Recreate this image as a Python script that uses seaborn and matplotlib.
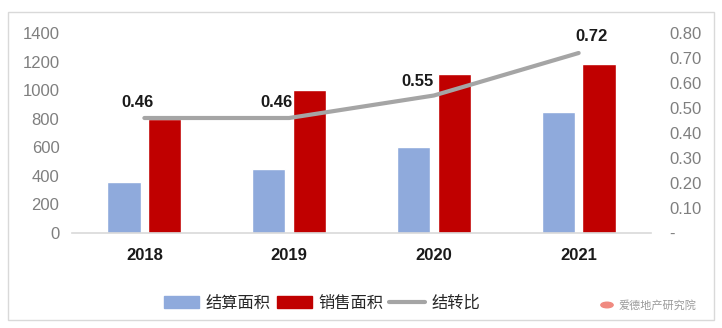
import matplotlib
matplotlib.use("Agg")
import matplotlib.pyplot as plt
import matplotlib.patches as mpatches
from matplotlib.lines import Line2D
from matplotlib.ticker import FixedLocator, FuncFormatter
import seaborn as sns
import pandas as pd

# 数据
years = ["2018", "2019", "2020", "2021"]
settled_area = [360, 450, 600, 850]      # 结算面积
sales_area = [800, 1000, 1110, 1180]     # 销售面积
carry_ratio = [0.46, 0.46, 0.55, 0.72]   # 结转比
series_names = ["结算面积", "销售面积", "结转比"]

BLUE = "#8FAADC"
RED = "#C00000"
GREY = "#A5A5A5"
TICK_GREY = "#7F7F7F"

sns.set_theme(style="white")
plt.rcParams["font.family"] = ["Liberation Sans", "Noto Sans CJK SC", "DejaVu Sans"]

df = pd.DataFrame({
    "年份": years * 2,
    "面积": settled_area + sales_area,
    "类型": [series_names[0]] * len(years) + [series_names[1]] * len(years),
})

fig = plt.figure(figsize=(7.22, 3.28), dpi=100)
ax = fig.add_axes([0.0997, 0.2896, 0.802, 0.6098])

sns.barplot(data=df, x="年份", y="面积", hue="类型", palette=[BLUE, RED],
            width=0.56, gap=0.18, saturation=1, ax=ax, legend=False)

ax.set_xlim(-0.5, 3.5)
ax.set_ylim(0, 1400)
ax.yaxis.set_major_locator(FixedLocator(range(0, 1401, 200)))
ax.set_xlabel("")
ax.set_ylabel("")
for s in ["top", "right", "left"]:
    ax.spines[s].set_visible(False)
ax.spines["bottom"].set_color("#D9D9D9")
ax.spines["bottom"].set_linewidth(1.2)
ax.tick_params(axis="y", length=0, pad=9, labelsize=12, labelcolor=TICK_GREY)
ax.tick_params(axis="x", length=0, pad=11, labelsize=12)
for lab in ax.get_xticklabels():
    lab.set_fontweight("bold")
    lab.set_color("#1A1A1A")

# 结转比折线（次坐标轴）
ax2 = ax.twinx()
sns.lineplot(x=list(range(len(years))), y=carry_ratio, ax=ax2, color=GREY,
             linewidth=3.0, solid_capstyle="round", legend=False)
ax2.set_ylim(0, 0.8)
ax2.yaxis.set_major_locator(FixedLocator([i / 10 for i in range(0, 9)]))
ax2.yaxis.set_major_formatter(FuncFormatter(lambda v, p: "-" if abs(v) < 1e-9 else f"{v:.2f}"))
for s in ["top", "right", "left", "bottom"]:
    ax2.spines[s].set_visible(False)
ax2.tick_params(axis="y", length=0, pad=13, labelsize=12, labelcolor=TICK_GREY)
for lab in ax2.get_yticklabels():
    lab.set_horizontalalignment("left")
ax2.set_ylabel("")

# 数据标签
label_offsets = [(-5, 11), (-9, 11), (-12, 10), (9, 12)]
for i, (v, off) in enumerate(zip(carry_ratio, label_offsets)):
    ax2.annotate(f"{v:.2f}", (i, v), xytext=off, textcoords="offset points",
                 ha="center", va="center", fontsize=12, fontweight="bold",
                 color="#1A1A1A")

# 图例
handles = [
    mpatches.Patch(color=BLUE, label=series_names[0]),
    mpatches.Patch(color=RED, label=series_names[1]),
    Line2D([0], [0], color=GREY, linewidth=3.0, label=series_names[2]),
]
fig.legend(handles=handles, loc="center", bbox_to_anchor=(0.446, 0.076), ncol=3,
           frameon=False, fontsize=11.7, handlelength=2.2, handletextpad=0.4,
           columnspacing=0.35, labelcolor="#262626")

# 来源标识
fig.patches.append(mpatches.Circle((607 / 722, 1 - 305 / 328), 0.0085,
                                   transform=fig.transFigure, color="#F08A80"))
fig.text(619 / 722, 1 - 305 / 328, "爱德地产研究院", fontsize=8, color="#9A9A9A",
         va="center", ha="left", family=["Noto Sans CJK SC", "DejaVu Sans"])

# 外框
fig.patches.append(mpatches.Rectangle((8 / 722, 1 - 320 / 328), 706 / 722, 308 / 328,
                                      transform=fig.transFigure, fill=False,
                                      edgecolor="#D9D9D9", linewidth=1.0))

fig.savefig("out.png", dpi=100)
